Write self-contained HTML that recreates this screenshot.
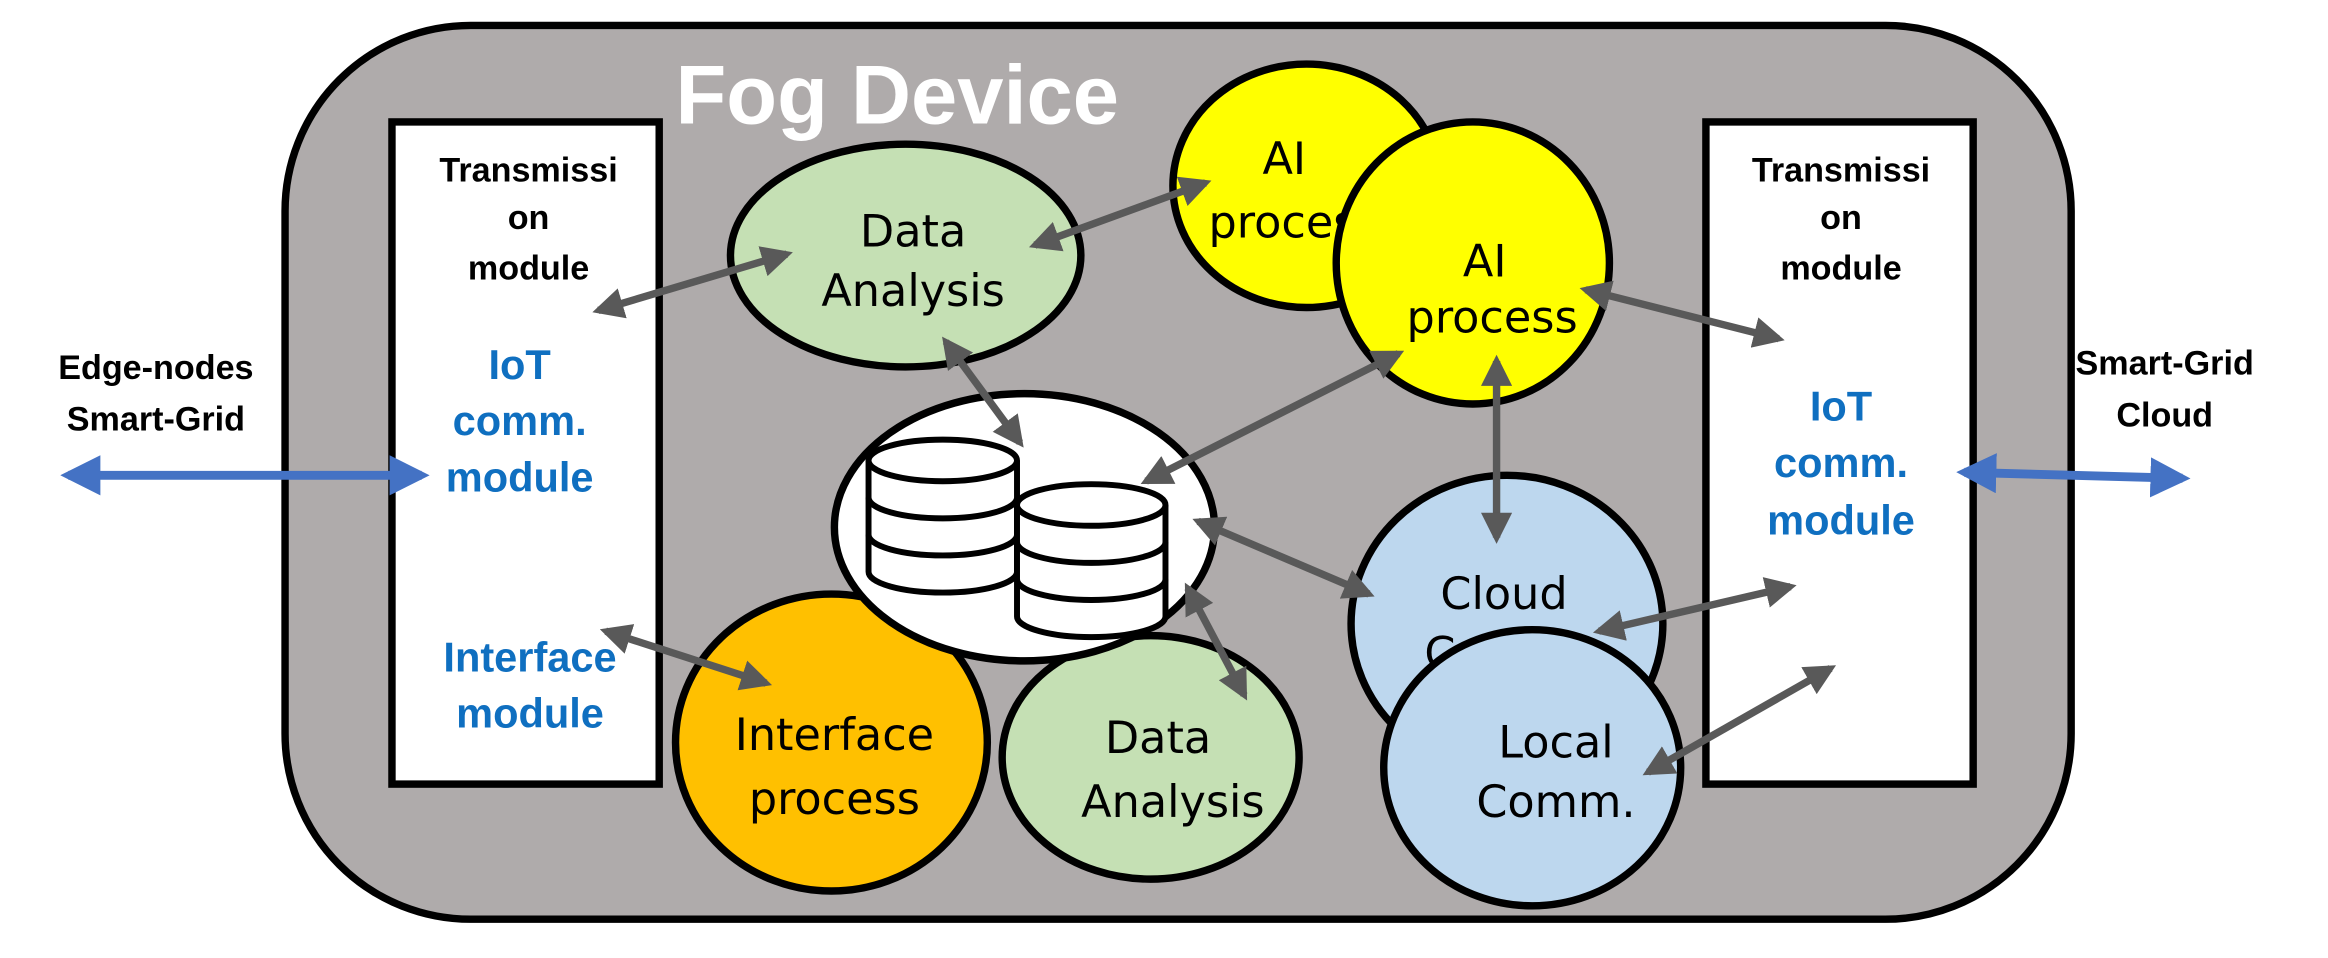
<!DOCTYPE html>
<html><head><meta charset="utf-8"><style>html,body{margin:0;padding:0;background:#fff}svg{display:block}</style></head><body>
<svg width="2328" height="958" viewBox="0 0 1568 645" xmlns="http://www.w3.org/2000/svg">
<defs>
<marker id="g" viewBox="0 0 10 10" refX="8" refY="5" markerWidth="4.2" markerHeight="4.2" orient="auto-start-reverse"><path d="M0,0L10,5L0,10z" fill="#595959"/></marker>
<marker id="b" viewBox="0 0 10 10" refX="8" refY="5" markerWidth="4.5" markerHeight="4.5" orient="auto-start-reverse"><path d="M0,0L10,5L0,10z" fill="#4472c4"/></marker>
</defs>
<rect x="192" y="17" width="1203" height="602" rx="125" fill="#afabab" stroke="#000" stroke-width="5"/>
<text x="455" y="83" font-family="Liberation Sans" font-weight="bold" font-size="56" fill="#fff">Fog Device</text>
<rect x="264" y="82" width="180" height="446" fill="#fff" stroke="#000" stroke-width="5"/>
<rect x="1149" y="82" width="180" height="446" fill="#fff" stroke="#000" stroke-width="5"/>
<g font-family="Liberation Sans" font-weight="bold" text-anchor="middle">
<g font-size="23" fill="#000">
<text x="356" y="122">Transmissi</text><text x="356" y="154">on</text><text x="356" y="188">module</text>
<text x="1240" y="122">Transmissi</text><text x="1240" y="154">on</text><text x="1240" y="188">module</text>
<text x="105" y="255">Edge-nodes</text><text x="105" y="290">Smart-Grid</text>
<text x="1458" y="252">Smart-Grid</text><text x="1458" y="287">Cloud</text>
</g>
<g font-size="28" fill="#0f6fc0">
<text x="350" y="255">IoT</text><text x="350" y="293">comm.</text><text x="350" y="331">module</text>
<text x="357" y="452">Interface</text><text x="357" y="490">module</text>
<text x="1240" y="283">IoT</text><text x="1240" y="321">comm.</text><text x="1240" y="360">module</text>
</g></g>
<line x1="46" y1="320" x2="284" y2="320" stroke="#4472c4" stroke-width="6" marker-start="url(#b)" marker-end="url(#b)"/>
<line x1="1323" y1="318" x2="1470" y2="322" stroke="#4472c4" stroke-width="6" marker-start="url(#b)" marker-end="url(#b)"/>
<g font-family="DejaVu Sans" font-size="30" text-anchor="middle" fill="#000">
<ellipse cx="610" cy="172" rx="118" ry="75" fill="#c5e0b4" stroke="#000" stroke-width="5"/>
<text x="615" y="166">Data</text><text x="615" y="206">Analysis</text>
<ellipse cx="880" cy="125" rx="90" ry="82" fill="#ffff00" stroke="#000" stroke-width="5"/>
<text x="865" y="117">AI</text><text x="814" y="160" text-anchor="start">process</text>
<ellipse cx="992" cy="177" rx="92" ry="95" fill="#ffff00" stroke="#000" stroke-width="5"/>
<text x="1000" y="186">AI</text><text x="1005" y="224">process</text>
<ellipse cx="1015" cy="420" rx="105" ry="100" fill="#bdd7ee" stroke="#000" stroke-width="5"/>
<text x="1013" y="410">Cloud</text><text x="1013" y="450">Comm.</text>
<ellipse cx="1032" cy="517" rx="100" ry="93" fill="#bdd7ee" stroke="#000" stroke-width="5"/>
<text x="1048" y="510">Local</text><text x="1048" y="550">Comm.</text>
<ellipse cx="560" cy="500" rx="105" ry="100" fill="#ffc000" stroke="#000" stroke-width="5"/>
<ellipse cx="775" cy="510" rx="100" ry="82" fill="#c5e0b4" stroke="#000" stroke-width="5"/>
<ellipse cx="690" cy="355" rx="128" ry="90" fill="#fff" stroke="#000" stroke-width="5"/>
<text x="562" y="505">Interface</text><text x="562" y="548">process</text>
<text x="780" y="507">Data</text><text x="790" y="550">Analysis</text>
</g>
<g stroke="#000" stroke-width="4" fill="#fff">
<path d="M585,310 v75 a50,14 0 0 0 100,0 v-75"/><ellipse cx="635" cy="310" rx="50" ry="14"/>
<path d="M585,335 a50,14 0 0 0 100,0 M585,360 a50,14 0 0 0 100,0" fill="none"/>
<path d="M685,340 v75 a50,14 0 0 0 100,0 v-75"/><ellipse cx="735" cy="340" rx="50" ry="14"/>
<path d="M685,365 a50,14 0 0 0 100,0 M685,390 a50,14 0 0 0 100,0" fill="none"/>
</g>
<g stroke="#595959" stroke-width="5" marker-start="url(#g)" marker-end="url(#g)">
<line x1="403" y1="209" x2="530" y2="171"/>
<line x1="697" y1="165" x2="812" y2="123"/>
<line x1="637" y1="230" x2="687" y2="298"/>
<line x1="772" y1="324" x2="942" y2="238"/>
<line x1="1068" y1="195" x2="1198" y2="228"/>
<line x1="1008" y1="243" x2="1008" y2="362"/>
<line x1="807" y1="351" x2="922" y2="400"/>
<line x1="800" y1="396" x2="838" y2="468"/>
<line x1="1077" y1="425" x2="1206" y2="395"/>
<line x1="1110" y1="520" x2="1233" y2="450"/>
<line x1="408" y1="425" x2="516" y2="460"/>
</g>
</svg>
</body></html>
